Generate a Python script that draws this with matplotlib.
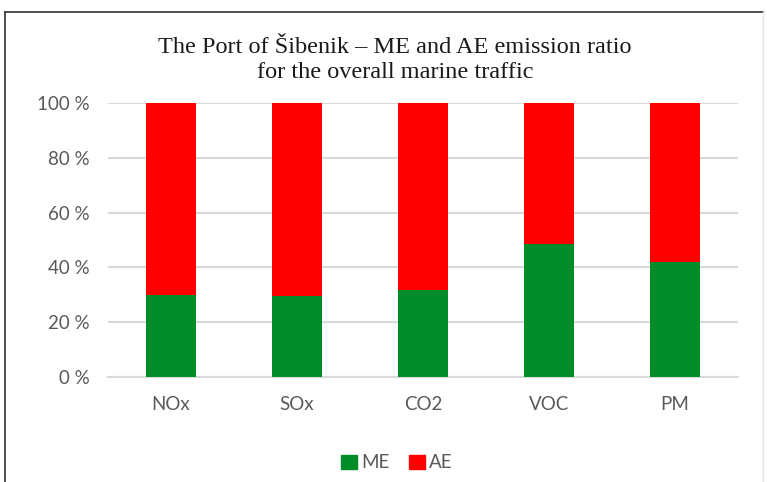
import matplotlib
matplotlib.use("Agg")
import matplotlib.pyplot as plt
from matplotlib.lines import Line2D
from matplotlib.patches import Patch
import numpy as np

categories = ["NOx", "SOx", "CO2", "VOC", "PM"]
me_share = [30.0, 29.4, 31.7, 48.5, 42.1]
ae_share = [70.0, 70.6, 68.3, 51.5, 57.9]
yticks = [0, 20, 40, 60, 80, 100]
ytick_labels = ["0 %", "20 %", "40 %", "60 %", "80 %", "100 %"]

green = "#008C28"
red = "#FF0000"
tick_color = "#595959"

fig = plt.figure(figsize=(7.67, 4.82), dpi=100)
ax = fig.add_axes([108/767, 1-377/482, 630/767, 274/482])

x = np.arange(len(categories))
ax.bar(x, me_share, width=0.4, color=green, zorder=3)
ax.bar(x, ae_share, width=0.4, bottom=me_share, color=red, zorder=3)

ax.set_xlim(-0.5, len(categories) - 0.5)
ax.set_ylim(0, 100)
ax.set_yticks(yticks)
ax.set_yticklabels(ytick_labels, fontfamily="Lato", fontsize=13.5, color=tick_color)
ax.set_xticks(x)
ax.set_xticklabels(categories, fontfamily="Lato", fontsize=13.5, color=tick_color)
ax.tick_params(axis="both", length=0)
ax.tick_params(axis="y", pad=13)
ax.tick_params(axis="x", pad=14)
ax.grid(axis="y", color="#D9D9D9", linewidth=1.5, zorder=0)
for s in ["top", "right", "left"]:
    ax.spines[s].set_visible(False)
ax.spines["bottom"].set_color("#D9D9D9")
ax.spines["bottom"].set_linewidth(1.5)

fig.text(395/767, 1-60/482, "The Port of Šibenik – ME and AE emission ratio\nfor the overall marine traffic",
         ha="center", va="center", fontfamily="Liberation Serif", fontsize=17.5,
         linespacing=1.25, color="#1a1a1a")

handles = [Patch(color=green, label="ME"), Patch(color=red, label="AE")]
leg = fig.legend(handles=handles, loc="center", bbox_to_anchor=(397/767, 1-463/482), ncol=2,
                 frameon=False, prop={"family": "Lato", "size": 13.5},
                 handlelength=0.85, handleheight=0.85, handletextpad=0.25, columnspacing=1.0)
for t in leg.get_texts():
    t.set_color(tick_color)

# outer frame
fig.add_artist(Line2D([5/767, 5/767], [0, 1-12/482], transform=fig.transFigure, color="#333333", lw=1.2))
fig.add_artist(Line2D([5/767, 763/767], [1-12/482, 1-12/482], transform=fig.transFigure, color="#333333", lw=1.2))
fig.add_artist(Line2D([763/767, 763/767], [0, 1-12/482], transform=fig.transFigure, color="#E6E6E6", lw=1.0))

fig.savefig("out.png", dpi=100)
